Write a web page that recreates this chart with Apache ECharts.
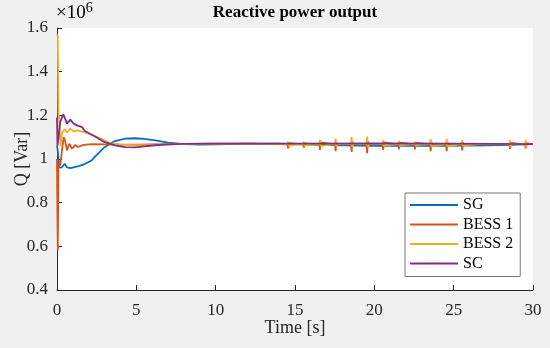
<!DOCTYPE html>
<html>
<head>
<meta charset="utf-8">
<script src="https://cdn.jsdelivr.net/npm/echarts@6/dist/echarts.min.js"></script>
<style>
html,body{margin:0;padding:0;background:#f0f0f0;}
#c{width:550px;height:348px;}
</style>
</head>
<body>
<div id="c"></div>
<script>
// Values in units of 10^6 Var
const sgT = [0, 0.03, 0.15, 0.31, 0.48, 0.63, 0.84, 1.05, 1.37, 1.78, 2.18, 2.41, 3.0, 3.65, 4.3, 4.9, 5.5, 6.2, 7.0, 8.0, 9.0, 10, 12, 14, 16, 18, 20, 22, 24, 26, 28, 30];
const sgV = [1.06, 1.05, 0.96, 0.962, 0.978, 0.962, 0.958, 0.962, 0.967, 0.978, 0.993, 1.012, 1.054, 1.082, 1.093, 1.095, 1.092, 1.085, 1.075, 1.068, 1.066, 1.067, 1.07, 1.07, 1.066, 1.062, 1.06, 1.06, 1.06, 1.061, 1.064, 1.068];

const bess1T = [0, 0.02, 0.05, 0.09, 0.2, 0.3, 0.42, 0.52, 0.63, 0.78, 0.95, 1.16, 1.32, 1.68, 2.2, 3, 4, 5, 6, 8, 10, 12,
  14.53, 14.57, 14.61, 14.66, 15.52, 15.56, 15.60, 15.65, 16.53, 16.57, 16.61, 16.66, 17.52, 17.56, 17.60, 17.65,
  18.53, 18.57, 18.61, 18.66, 19.51, 19.55, 19.59, 19.64, 20.52, 20.56, 20.60, 20.65, 21.51, 21.55, 21.59, 21.64,
  22.52, 22.56, 22.60, 22.65, 23.51, 23.55, 23.59, 23.64, 24.52, 24.56, 24.60, 24.65, 25.50, 25.54, 25.58, 25.63,
  26.51, 26.55, 26.59, 26.64, 28.51, 28.55, 28.59, 28.64, 29.50, 29.54, 29.58, 29.63, 30];
const bess1V = [1.0, 0.8, 0.58, 0.98, 0.97, 1.03, 1.10, 1.08, 1.04, 1.07, 1.047, 1.065, 1.055, 1.065, 1.068, 1.067, 1.066, 1.066, 1.067, 1.069, 1.07, 1.07,
  1.067, 1.049, 1.073, 1.067, 1.067, 1.052, 1.072, 1.067, 1.067, 1.041, 1.076, 1.067, 1.067, 1.036, 1.078, 1.067,
  1.067, 1.032, 1.079, 1.067, 1.067, 1.026, 1.081, 1.067, 1.067, 1.041, 1.076, 1.067, 1.067, 1.044, 1.075, 1.067,
  1.067, 1.044, 1.075, 1.067, 1.067, 1.036, 1.078, 1.067, 1.067, 1.036, 1.078, 1.067, 1.067, 1.039, 1.077, 1.067,
  1.067, 1.059, 1.070, 1.067, 1.067, 1.046, 1.074, 1.067, 1.067, 1.048, 1.073, 1.067, 1.067];

const bess2T = [0, 0.05, 0.09, 0.13, 0.22, 0.32, 0.49, 0.63, 0.84, 1.05, 1.32, 1.76, 2.4, 3.0, 3.4, 4, 5, 6, 8, 10, 12,
  14.53, 14.57, 14.61, 14.66, 15.52, 15.56, 15.60, 15.65, 16.53, 16.57, 16.61, 16.66, 17.52, 17.56, 17.60, 17.65,
  18.53, 18.57, 18.61, 18.66, 19.51, 19.55, 19.59, 19.64, 20.52, 20.56, 20.60, 20.65, 21.51, 21.55, 21.59, 21.64,
  22.52, 22.56, 22.60, 22.65, 23.51, 23.55, 23.59, 23.64, 24.52, 24.56, 24.60, 24.65, 25.50, 25.54, 25.58, 25.63,
  26.51, 26.55, 26.59, 26.64, 28.51, 28.55, 28.59, 28.64, 29.50, 29.54, 29.58, 29.63, 30];
const bess2V = [1.57, 1.56, 1.20, 1.19, 1.06, 1.12, 1.136, 1.12, 1.139, 1.126, 1.131, 1.122, 1.105, 1.085, 1.072, 1.066, 1.064, 1.065, 1.068, 1.07, 1.07,
  1.068, 1.080, 1.063, 1.068, 1.068, 1.080, 1.063, 1.068, 1.068, 1.088, 1.060, 1.068, 1.068, 1.094, 1.058, 1.068,
  1.068, 1.102, 1.055, 1.068, 1.068, 1.103, 1.054, 1.068, 1.068, 1.086, 1.061, 1.068, 1.068, 1.083, 1.062, 1.068,
  1.068, 1.079, 1.064, 1.068, 1.068, 1.091, 1.059, 1.068, 1.068, 1.091, 1.059, 1.068, 1.068, 1.086, 1.061, 1.068,
  1.068, 1.076, 1.065, 1.068, 1.068, 1.086, 1.052, 1.068, 1.068, 1.086, 1.052, 1.068, 1.068];

const scT = [0, 0.03, 0.1, 0.2, 0.4, 0.63, 0.84, 1.05, 1.26, 1.58, 1.76, 2.4, 3.0, 3.65, 4.3, 4.9, 5.5, 6.2, 7, 8, 10, 12, 15, 20, 25, 30];
const scV = [1.19, 1.06, 1.10, 1.17, 1.205, 1.162, 1.18, 1.162, 1.154, 1.146, 1.128, 1.103, 1.077, 1.062, 1.054, 1.053, 1.058, 1.063, 1.067, 1.069, 1.07, 1.07, 1.07, 1.071, 1.07, 1.068];

const seriesNames = ['SG', 'BESS 1', 'BESS 2', 'SC'];
const seriesColors = ['#0072BD', '#D95319', '#EDB120', '#7E2F8E'];
const xTicks = [0, 5, 10, 15, 20, 25, 30];
const yTicks = [0.4, 0.6, 0.8, 1, 1.2, 1.4, 1.6];

const FONT = "'Liberation Serif', 'Times New Roman', serif";
function pairs(t, v) { return t.map((x, i) => [x, v[i]]); }
const allData = [pairs(sgT, sgV), pairs(bess1T, bess1V), pairs(bess2T, bess2V), pairs(scT, scV)];

const chart = echarts.init(document.getElementById('c'), null, {renderer: 'canvas'});
chart.setOption({
  backgroundColor: '#f0f0f0',
  animation: false,
  grid: {left: 57, right: 17, top: 28, bottom: 58, show: true, backgroundColor: '#ffffff', borderWidth: 0,
    containLabel: false, outerBoundsMode: 'none'},
  xAxis: {
    type: 'value', min: xTicks[0], max: xTicks[xTicks.length - 1], interval: 5,
    name: 'Time [s]', nameLocation: 'middle', nameGap: 29, nameMoveOverlap: false,
    nameTextStyle: {fontFamily: FONT, fontSize: 18, color: '#262626'},
    axisLine: {show: true, lineStyle: {color: '#262626', width: 1}},
    axisTick: {show: true, inside: true, length: 5, lineStyle: {color: '#262626'}},
    axisLabel: {fontFamily: FONT, fontSize: 17, color: '#262626', margin: 12},
    splitLine: {show: false}
  },
  yAxis: {
    type: 'value', min: yTicks[0], max: yTicks[yTicks.length - 1], interval: 0.2,
    name: 'Q [Var]', nameLocation: 'middle', nameGap: 26, nameRotate: 90, nameMoveOverlap: false,
    nameTextStyle: {fontFamily: FONT, fontSize: 18, color: '#262626'},
    axisLine: {show: true, lineStyle: {color: '#262626', width: 1}},
    axisTick: {show: true, inside: true, length: 5, lineStyle: {color: '#262626'}},
    axisLabel: {fontFamily: FONT, fontSize: 17, color: '#262626', margin: 9},
    splitLine: {show: false}
  },
  legend: {
    orient: 'vertical', left: 405, top: 193,
    data: seriesNames,
    icon: 'rect', itemWidth: 48, itemHeight: 2, itemGap: 3.5,
    padding: [4, 7, 5, 5],
    backgroundColor: '#ffffff', borderColor: '#777777', borderWidth: 1,
    textStyle: {fontFamily: FONT, fontSize: 16, color: '#000', lineHeight: 16}
  },
  graphic: [
    {type: 'text', x: 295, y: 13, style: {
      text: 'Reactive power output', font: "bold 17px " + FONT, fill: '#000',
      align: 'center', verticalAlign: 'middle'
    }},
    {type: 'text', left: 56, top: 1, style: {
      text: '{a|×10}{b|6}',
      rich: {
        a: {fontFamily: FONT, fontSize: 19, color: '#262626', verticalAlign: 'bottom', lineHeight: 22},
        b: {fontFamily: FONT, fontSize: 14, color: '#262626', verticalAlign: 'top', lineHeight: 22}
      }
    }}
  ],
  series: seriesNames.map((n, i) => ({
    name: n, type: 'line', data: allData[i],
    showSymbol: false, symbol: 'none',
    lineStyle: {color: seriesColors[i], width: 1.8},
    itemStyle: {color: seriesColors[i]},
    z: 2 + i
  }))
});
</script>
</body>
</html>
